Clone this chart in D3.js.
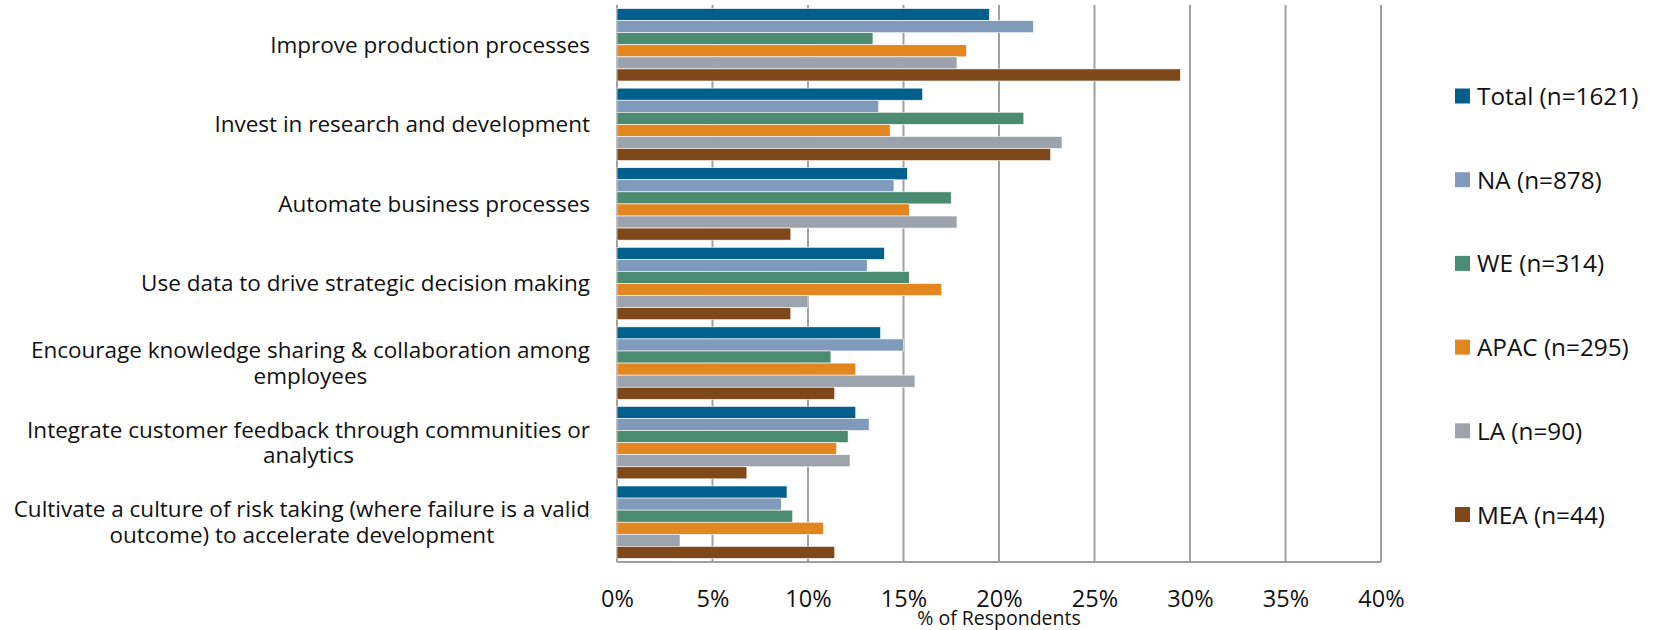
<!DOCTYPE html>
<html><head><meta charset="utf-8">
<script src="https://cdn.jsdelivr.net/npm/d3@7"></script>
<style>
html,body{margin:0;padding:0;background:#fff;}
svg{display:block;font-family:"Open Sans","Noto Sans",sans-serif;}
</style></head>
<body>
<svg id="chart" width="1659" height="630"></svg>
<script>
const categories = [
  "Improve production processes",
  "Invest in research and development",
  "Automate business processes",
  "Use data to drive strategic decision making",
  "Encourage knowledge sharing & collaboration among\nemployees",
  "Integrate customer feedback through communities or\nanalytics",
  "Cultivate a culture of risk taking (where failure is a valid\noutcome) to accelerate development"
];
const seriesNames = ["Total (n=1621)","NA (n=878)","WE (n=314)","APAC (n=295)","LA (n=90)","MEA (n=44)"];
const total = [0.195, 0.160, 0.152, 0.140, 0.138, 0.125, 0.089];
const na    = [0.218, 0.137, 0.145, 0.131, 0.150, 0.132, 0.086];
const we    = [0.134, 0.213, 0.175, 0.153, 0.112, 0.121, 0.092];
const apac  = [0.183, 0.143, 0.153, 0.170, 0.125, 0.115, 0.108];
const la    = [0.178, 0.233, 0.178, 0.100, 0.156, 0.122, 0.033];
const mea   = [0.295, 0.227, 0.091, 0.091, 0.114, 0.068, 0.114];
const xTicks = [0, 0.05, 0.10, 0.15, 0.20, 0.25, 0.30, 0.35, 0.40];
const colors = ["#00608b","#7f9aba","#4b8b72","#e2861f","#9ca3ac","#7f481a"];

const seriesValues = [total, na, we, apac, la, mea];
const svg = d3.select("#chart");
const L = 617, R = 1381, T = 5, B = 562;

const x = d3.scaleLinear().domain([0, 0.40]).range([L, R]);
const y0 = d3.scaleBand().domain(categories).range([T, B]).paddingInner(0.09).paddingOuter(0.045);
const y1 = d3.scaleBand().domain(seriesNames).range([0, y0.bandwidth()]).padding(0);

// gridlines
svg.append("g").selectAll("line").data(xTicks).join("line")
  .attr("x1", d => x(d)).attr("x2", d => x(d))
  .attr("y1", T).attr("y2", B)
  .attr("stroke", "#a0a0a0").attr("stroke-width", 2);
// bottom axis line
svg.append("line").attr("x1", L).attr("x2", R).attr("y1", B).attr("y2", B)
  .attr("stroke", "#a0a0a0").attr("stroke-width", 2);

// bars
const g = svg.append("g");
categories.forEach((c, ci) => {
  const grp = g.append("g").attr("transform", `translate(0,${y0(c)})`);
  seriesNames.forEach((s, si) => {
    grp.append("rect")
      .attr("x", x(0))
      .attr("y", y1(s))
      .attr("width", x(seriesValues[si][ci]) - x(0))
      .attr("height", y1.bandwidth())
      .attr("fill", colors[si])
      .attr("stroke", "#ffffff").attr("stroke-width", 0.6);
  });
});

// x axis tick labels
const xAxis = d3.axisBottom(x).tickValues(xTicks).tickFormat(d3.format(".0%")).tickSize(0).tickPadding(0);
const ax = svg.append("g").attr("transform", `translate(0,${B})`).call(xAxis);
ax.select(".domain").remove();
ax.selectAll("text").attr("font-size", 23.5).attr("fill", "#111").attr("dy", null).attr("y", 45)
  .attr("font-family", '"Open Sans","Noto Sans",sans-serif');

svg.append("text").attr("x", (L + R) / 2).attr("y", 625).attr("text-anchor", "middle")
  .attr("font-size", 19.5).attr("fill", "#111").text("% of Respondents");

// category labels
const lab = svg.append("g").attr("font-size", 22.5).attr("fill", "#111");
categories.forEach(c => {
  const lines = c.split("\n");
  const cy = y0(c) + y0.bandwidth() / 2;
  const lh = 25.6;
  const t = lab.append("text").attr("text-anchor", "middle");
  const spans = lines.map((ln, i) =>
    t.append("tspan").attr("x", 0).attr("y", cy + (i - (lines.length - 1) / 2) * lh).attr("dy", "0.35em").text(ln));
  const w = d3.max(spans, s => s.node().getComputedTextLength());
  spans.forEach(s => s.attr("x", 590 - w / 2));
});

// legend
const lg = svg.append("g");
seriesNames.forEach((s, i) => {
  const cy = 96.5 + i * 83.7;
  lg.append("rect").attr("x", 1455).attr("y", cy - 8).attr("width", 15).attr("height", 15).attr("fill", colors[i]);
  lg.append("text").attr("x", 1477).attr("y", cy).attr("dy", "0.35em").attr("font-size", 24.3).attr("fill", "#111").text(s);
});
</script>
</body></html>
